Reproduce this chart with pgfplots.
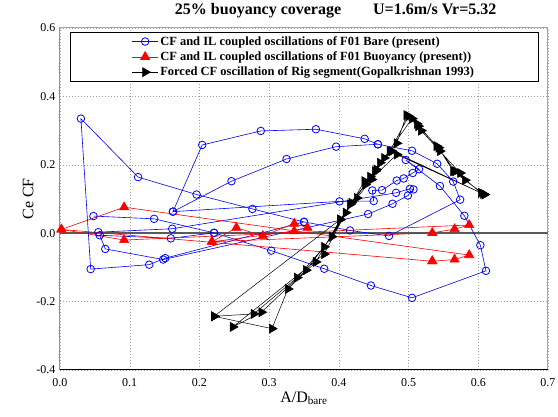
\documentclass[border=0pt]{standalone}
\usepackage{fontspec}
\setmainfont{Liberation Serif}
\usepackage{pgfplots}
\pgfplotsset{compat=1.18}

\definecolor{cfblue}{RGB}{0,0,255}
\definecolor{cfred}{RGB}{255,0,0}

\begin{document}
\begin{tikzpicture}
\useasboundingbox (0,0) rectangle (558pt,417pt);
\begin{axis}[
  at={(60pt,47pt)}, anchor=south west,
  scale only axis, width=488pt, height=342pt,
  xmin=0, xmax=0.7, ymin=-0.4, ymax=0.6,
  xtick={0,0.1,0.2,0.3,0.4,0.5,0.6,0.7},
  ytick={-0.4,-0.2,0,0.2,0.4,0.6},
  /pgf/number format/.cd, fixed, fixed zerofill, precision=1, assume math mode=true,
  /pgfplots/.cd,
  tick label style={font=\fontsize{12}{12}\selectfont},
  xticklabel style={yshift=-5pt},
  yticklabel style={xshift=-1pt},
  tick style={draw=none},
  grid=major,
  grid style={gray!75, dash pattern=on 1pt off 2pt},
  extra y ticks={0}, extra y tick labels={},
  extra y tick style={grid=major, major grid style={black!65, solid, line width=1.4pt}},
  axis line style={gray!70, line width=1pt},
  xlabel={A/D\textsubscript{bare}},
  ylabel={Ce CF},
  label style={font=\fontsize{16}{16}\selectfont},
  xlabel style={yshift=2pt},
  ylabel style={yshift=-4pt},
  title={\bfseries 25\% buoyancy coverage\hspace{2em}U=1.6m/s Vr=5.32},
  title style={font=\fontsize{16}{16}\selectfont, at={(0.565,1)}, anchor=south, yshift=0pt},
  legend style={at={(0.5,1)}, anchor=north, yshift=-4pt,
    font=\bfseries\fontsize{12.5}{13}\selectfont, draw=black, line width=0.8pt,
    inner xsep=62pt, inner ysep=2pt, row sep=1pt, cells={anchor=west}},
  legend image code/.code={%
    \draw[mark repeat=2,mark phase=2] plot coordinates {(0cm,0cm) (0.45cm,0cm) (0.9cm,0cm)};},
]

% ---- F01 bare pipe: CF and IL coupled oscillation ----
\addplot[cfblue, line width=0.6pt, mark=o, mark size=3.8pt, mark options={solid, line width=0.8pt, fill=white}]
coordinates {
(0.350,0.033) (0.151,-0.073) (0.128,-0.092) (0.044,-0.105) (0.030,0.335)
(0.112,0.164) (0.196,0.113) (0.276,0.071) (0.350,0.033) (0.416,0.008)
(0.472,-0.008) (0.574,0.098) (0.564,0.151) (0.541,0.203) (0.505,0.241)
(0.456,0.260) (0.437,0.276) (0.367,0.304) (0.288,0.299) (0.204,0.258)
(0.162,0.063) (0.246,0.152) (0.325,0.217) (0.396,0.253) (0.456,0.260)
};
\addlegendentry{CF and IL coupled oscillations of F01 Bare (present)}
\addplot[forget plot, cfblue, line width=0.6pt, mark=o, mark size=3.8pt, mark options={solid, line width=0.8pt, fill=white}]
coordinates {
(0.162,0.063) (0.401,0.093) (0.450,0.094) (0.448,0.125) (0.462,0.126)
(0.483,0.154) (0.493,0.160) (0.506,0.176) (0.515,0.187) (0.496,0.214)
(0.545,0.138) (0.580,0.051) (0.603,-0.035) (0.611,-0.110) (0.505,-0.189)
(0.446,-0.153) (0.379,-0.104) (0.303,-0.051) (0.221,0.001) (0.135,0.042)
(0.048,0.050)
};
\addplot[forget plot, cfblue, line width=0.6pt, mark=o, mark size=3.8pt, mark options={solid, line width=0.8pt, fill=white}]
coordinates {
(0.055,0.003) (0.161,0.013) (0.482,0.118) (0.502,0.130) (0.507,0.128)
(0.499,0.110) (0.477,0.086) (0.442,0.056) (0.148,-0.077) (0.065,-0.046)
(0.057,-0.006) (0.159,-0.015) (0.221,0.001)
};

% ---- F01 with buoyancy modules ----
\addplot[cfred, line width=0.6pt, mark=triangle*, mark size=5.3pt, mark options={solid, fill=cfred}]
coordinates {
(0.534,-0.082) (0.002,0.011) (0.092,0.076) (0.587,-0.064) (0.566,-0.077)
(0.534,-0.082)
};
\addlegendentry{CF and IL coupled oscillations of F01 Buoyancy (present))}
\addplot[forget plot, cfred, line width=0.6pt, mark=triangle*, mark size=5.3pt, mark options={solid, fill=cfred}]
coordinates {
(0.002,0.011) (0.092,-0.020) (0.587,0.024) (0.566,0.012) (0.534,0.001)
(0.218,-0.025) (0.253,0.016) (0.291,-0.008) (0.336,0.028) (0.355,0.016)
(0.336,0.006) (0.218,-0.025)
};

% ---- Forced CF oscillation, rigid segment (Gopalkrishnan 1993) ----
\addplot[black, line width=0.5pt, mark=triangle*, mark size=5.3pt, mark options={solid, fill=black, rotate=-90}]
coordinates {
(0.221,-0.243) (0.304,-0.279) (0.327,-0.163) (0.367,-0.084) (0.402,0.040)
(0.426,0.103) (0.447,0.157) (0.459,0.206) (0.483,0.263) (0.497,0.345)
(0.514,0.313) (0.543,0.250) (0.564,0.181) (0.607,0.115)
(0.476,0.240) (0.452,0.181) (0.416,0.084) (0.379,-0.061) (0.248,-0.274)
(0.289,-0.231) (0.353,-0.108) (0.390,-0.010) (0.418,0.089) (0.437,0.152)
(0.454,0.186) (0.473,0.240) (0.500,0.342) (0.518,0.300) (0.545,0.240)
(0.574,0.176) (0.581,0.155) (0.609,0.113)
(0.483,0.230) (0.438,0.142) (0.402,0.040) (0.221,-0.243)
(0.278,-0.236) (0.340,-0.130) (0.379,-0.040) (0.410,0.060) (0.445,0.165)
(0.465,0.220) (0.505,0.335) (0.512,0.320) (0.540,0.255) (0.567,0.181)
(0.604,0.118)
};
\addlegendentry{Forced CF oscillation of Rig segment(Gopalkrishnan 1993)}

% left and bottom spines in black
\draw[black, line width=1pt] (rel axis cs:0,1) -- (rel axis cs:0,0) -- (rel axis cs:1,0);
\end{axis}
\end{tikzpicture}
\end{document}
